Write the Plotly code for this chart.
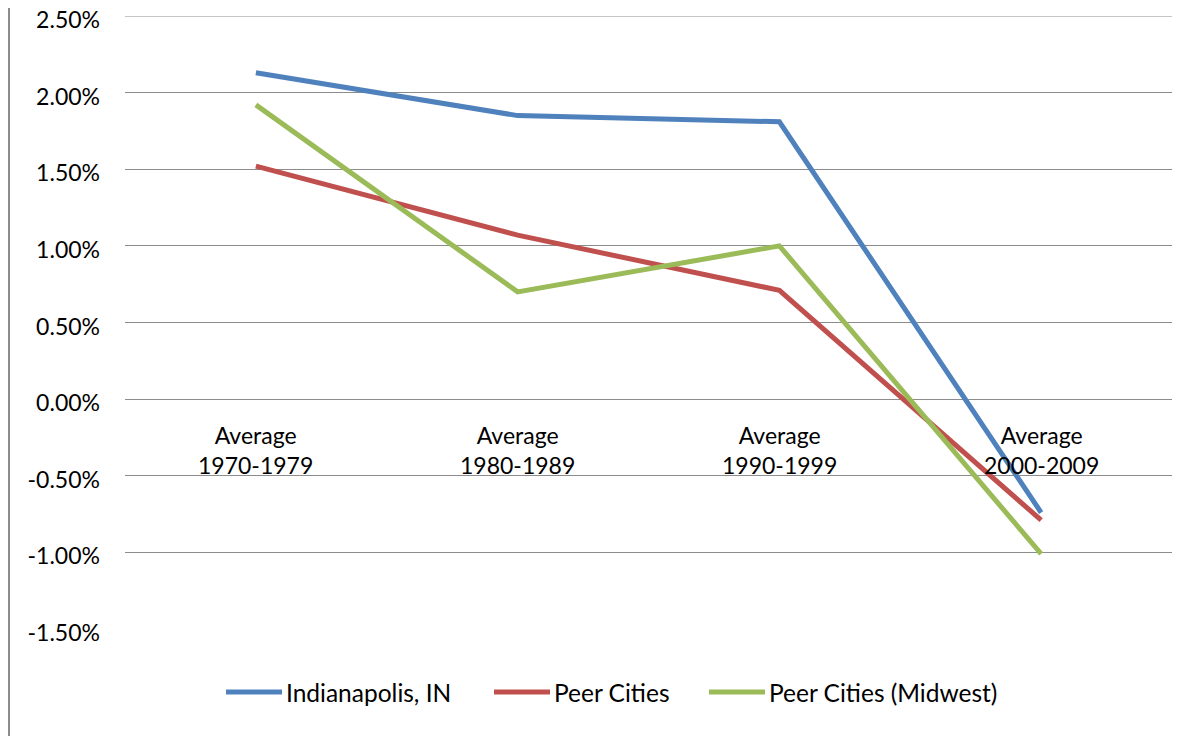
import plotly.graph_objects as go

categories = ["Average<br>1970-1979", "Average<br>1980-1989", "Average<br>1990-1999", "Average<br>2000-2009"]
indianapolis = [0.0213, 0.0185, 0.0181, -0.0074]
peer_cities = [0.0152, 0.0107, 0.0071, -0.0079]
peer_midwest = [0.0192, 0.0070, 0.0100, -0.0101]
tick_values = [-0.015, -0.010, -0.005, 0.0, 0.005, 0.010, 0.015, 0.020, 0.025]
tick_labels = ["-1.50%", "-1.00%", "-0.50%", "0.00%", "0.50%", "1.00%", "1.50%", "2.00%", "2.50%"]

names = ["Indianapolis, IN", "Peer Cities", "Peer Cities (Midwest)"]
values = [indianapolis, peer_cities, peer_midwest]
colors = ["#4F81BD", "#C0504D", "#9BBB59"]

FONT = "Lato, Open Sans, sans-serif"
OFF = 8  # page body margin
W, H = 1201, 736
# desired plot box in window pixels: left 125, right 1172, top 16, bottom 629
L = 125 - OFF
T = 16 - OFF
R = W - (1172 - OFF)
B = H - (629 - OFF)
PW, PH = W - L - R, H - T - B

def px_x(x):
    return (x - OFF - L) / PW

def px_y(y):
    return (H - B - (y - OFF)) / PH

fig = go.Figure()
xs = list(range(len(categories)))
for name, vals, color in zip(names, values, colors):
    fig.add_trace(go.Scatter(x=xs, y=vals, name=name, mode="lines",
                             line=dict(color=color, width=5), showlegend=False))

for i, c in enumerate(categories):
    fig.add_annotation(x=i, y=0, xref="x", yref="y", text=c, showarrow=False,
                       yanchor="top", yshift=-20, font=dict(size=23, color="black", family=FONT))

# top gridline (plot edge)
fig.add_shape(type="line", xref="paper", yref="y", x0=0, x1=1, y0=tick_values[-1], y1=tick_values[-1],
              line=dict(color="#8c8c8c", width=1), layer="below")

# manual legend
leg_y = px_y(692)
leg_line_x = [226, 494, 709]
for name, color, lx in zip(names, colors, leg_line_x):
    fig.add_shape(type="line", xref="paper", yref="paper", x0=px_x(lx), x1=px_x(lx + 56),
                  y0=leg_y, y1=leg_y, line=dict(color=color, width=5))
    fig.add_annotation(x=px_x(lx + 58), y=leg_y, xref="paper", yref="paper", text=name,
                       showarrow=False, xanchor="left", yanchor="middle",
                       font=dict(size=24.5, color="black", family=FONT))

# chart-area left border
fig.add_shape(type="line", xref="paper", yref="paper", x0=px_x(9), x1=px_x(9),
              y0=px_y(0), y1=px_y(745), line=dict(color="#8c8c8c", width=2))

fig.update_layout(
    width=W, height=H,
    margin=dict(l=L, r=R, t=T, b=B, autoexpand=False),
    paper_bgcolor="white", plot_bgcolor="white",
    font=dict(family=FONT, size=23, color="black"),
    showlegend=False,
)
fig.update_xaxes(range=[-0.5, 3.5], showticklabels=False, showgrid=False, zeroline=False,
                 showline=False, ticks="", automargin=False)
fig.update_yaxes(range=[-0.015, 0.025], tickmode="array", tickvals=tick_values, ticktext=tick_labels,
                 showgrid=True, gridcolor="#8c8c8c", gridwidth=1, zeroline=False, showline=False,
                 ticklabelstandoff=24, ticklabelshift=4, ticklabeloverflow="allow",
                 tickfont=dict(size=23, color="black"), automargin=False)

fig.write_html("out.html")
